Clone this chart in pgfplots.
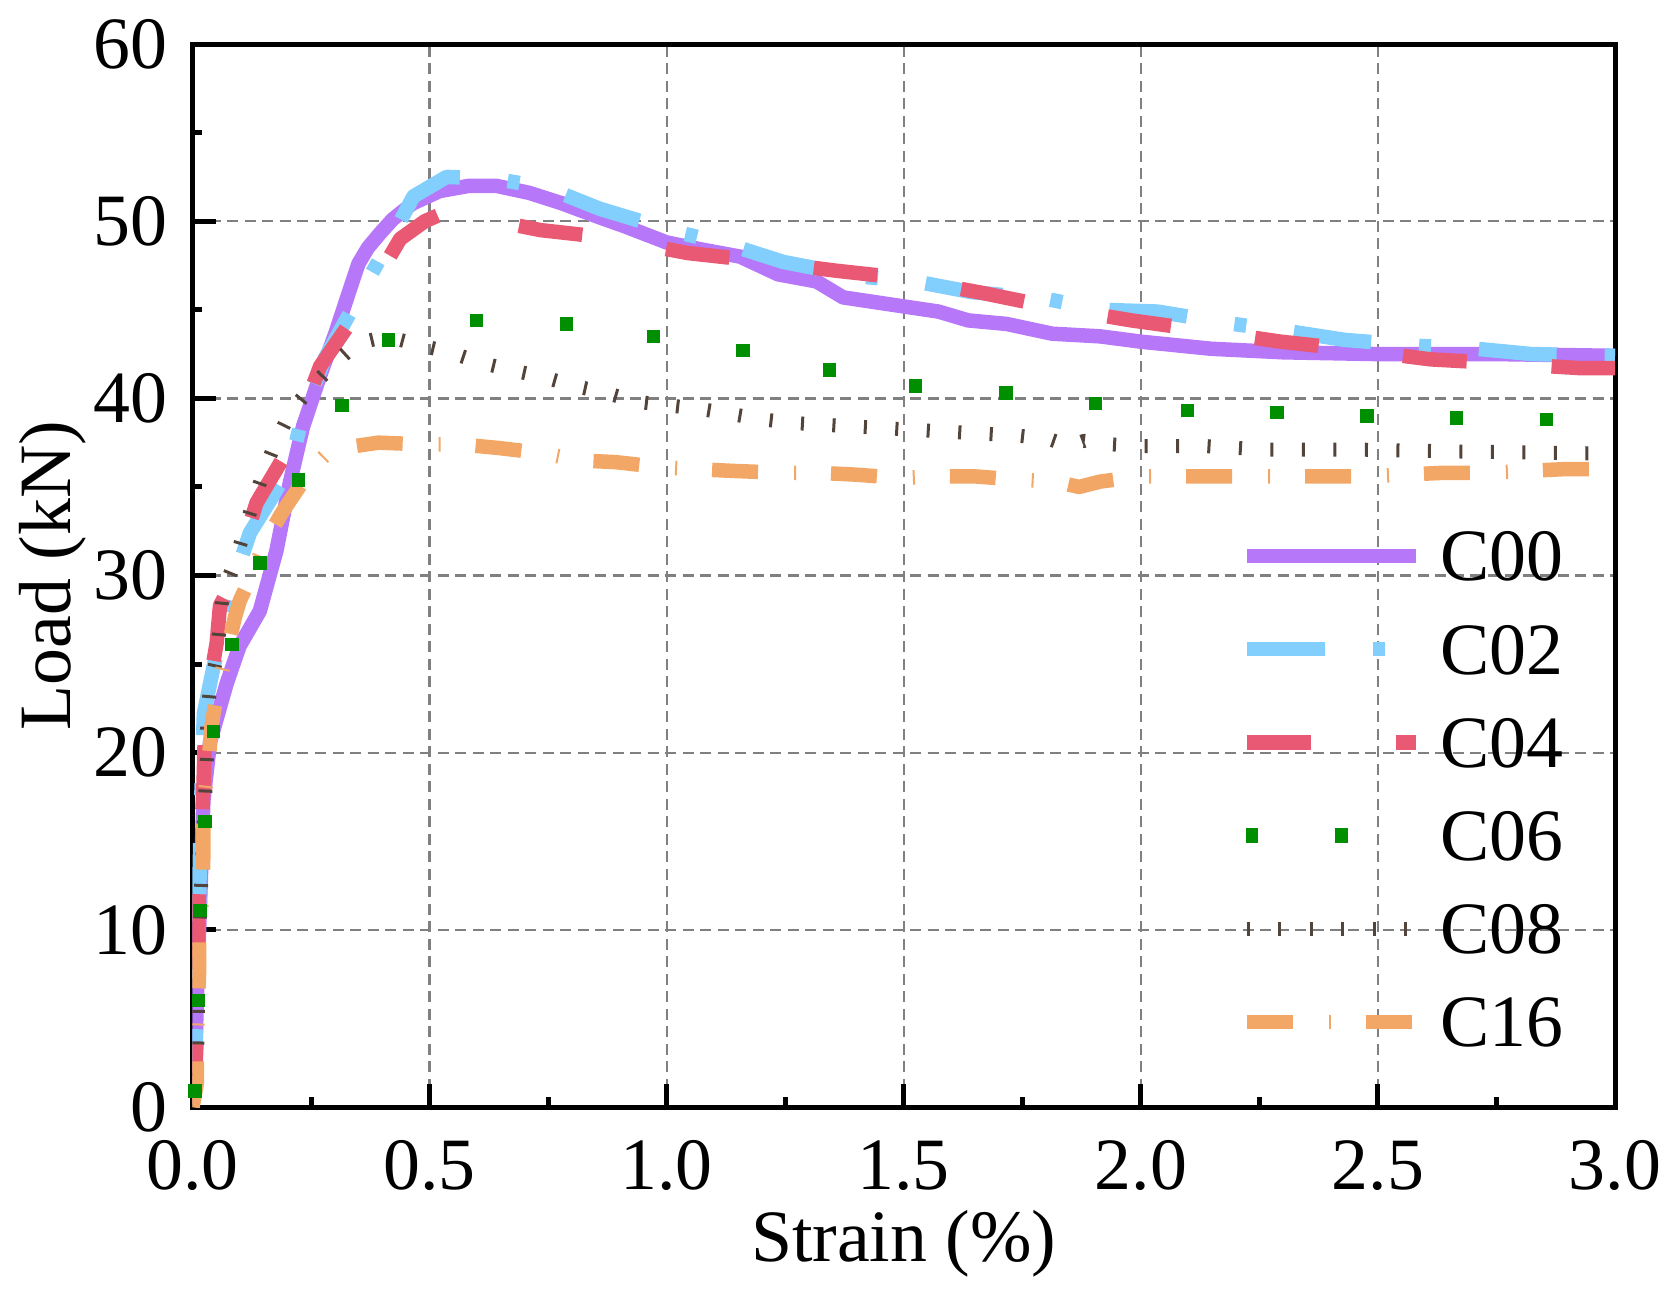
\documentclass[border=0pt]{standalone}
\usepackage{fontspec}
\setmainfont{Liberation Serif}
\usepackage{pgfplots}
\pgfplotsset{compat=1.18}
\definecolor{c00}{RGB}{183,119,249}
\definecolor{c02}{RGB}{130,206,252}
\definecolor{c04}{RGB}{234,89,115}
\definecolor{c06}{RGB}{0,143,0}
\definecolor{c08}{RGB}{82,68,58}
\definecolor{c16}{RGB}{242,167,102}
\definecolor{gridgray}{RGB}{128,128,128}
\newcommand{\fs}{\fontsize{21}{25}\selectfont}
\begin{document}
\begin{tikzpicture}
\useasboundingbox (-1.925cm,-1.82cm) rectangle (14.875cm,11.07cm);
\begin{axis}[
  at={(0,0)}, anchor=south west,
  scale only axis, width=14.225cm, height=10.63cm,
  xmin=0, xmax=3, ymin=0, ymax=60,
  xtick={0,0.5,1,1.5,2,2.5,3}, ytick={0,10,20,30,40,50,60},
  minor x tick num=1, minor y tick num=1,
  tick pos=left, tick align=inside,
  major tick length=0.23cm, minor tick length=0.1cm,
  tick style={line width=0.05cm, black},
  axis line style={line width=0.05cm, black},
  grid=major,
  major grid style={line width=0.023cm, gridgray, dash pattern=on 0.11cm off 0.065cm},
  /pgf/number format/assume math mode=true,
  tick label style={font=\fs},
  x tick label style={anchor=base, inner sep=0pt, yshift=-0.82cm, /pgf/number format/fixed, /pgf/number format/fixed zerofill, /pgf/number format/precision=1},
  y tick label style={anchor=east, inner sep=0pt, xshift=-0.245cm},
  xlabel={Strain (\%)}, ylabel={Load (kN)},
  every axis x label/.style={at={(rel axis cs:0.5,0)}, anchor=base, yshift=-1.545cm, font=\fs},
  every axis y label/.style={at={(rel axis cs:0,0.5)}, xshift=-1.218cm, anchor=base, rotate=90, font=\fs},
  legend style={draw=none, fill=none, at={(0.964,0.542)}, anchor=north east, inner sep=0pt, outer sep=0pt,
    row sep=0.432cm, column sep=0.18cm, font=\fs, nodes={inner sep=0pt, text height=0.5cm, text depth=0pt}},
  legend cell align=left,
  legend image code/.code={\draw[#1] (0cm,0cm) -- (1.69cm,0cm);},
]
\addplot[c00, line width=0.145cm, line join=round] coordinates {
(0,0) (0.006,3) (0.010,6.9) (0.016,11.6) (0.023,17.3) (0.037,20.6) (0.072,23.9) (0.099,26) (0.142,28) (0.177,31.4) (0.205,35.2) (0.233,38.4) (0.268,41.2) (0.303,43.8) (0.33,46.0) (0.35,47.6) (0.37,48.5) (0.395,49.3) (0.422,50.1) (0.464,51) (0.521,51.7) (0.584,52) (0.64,52) (0.71,51.6) (0.78,51) (0.85,50.3) (0.913,49.7) (1.0,48.8) (1.074,48.4) (1.155,48) (1.235,47) (1.316,46.6) (1.372,45.7) (1.497,45.2) (1.573,44.9) (1.636,44.4) (1.717,44.2) (1.813,43.65) (1.914,43.5) (2.0,43.2) (2.148,42.8) (2.3,42.6) (2.497,42.5) (2.75,42.5) (3.0,42.4)
};
\addlegendentry{C00}
\addplot[c02, line width=0.145cm, line join=round, dash pattern=on 0.78cm off 0.48cm on 0.12cm off 0.48cm] coordinates {
(0,0) (0.005,3) (0.009,5) (0.012,9) (0.016,14.5) (0.02,19) (0.024,22.2) (0.044,24.8) (0.086,29.6) (0.121,32.4) (0.165,34.3) (0.206,36.2) (0.234,39.2) (0.28,42.3) (0.346,45.5) (0.41,48.6) (0.466,51.4) (0.536,52.5) (0.635,52.4) (0.747,51.9) (0.859,50.7) (1.02,49.4) (1.129,48.7) (1.246,47.7) (1.4,46.9) (1.525,46.6) (1.642,46.0) (1.803,45.6) (1.916,45.0) (2.035,44.9) (2.195,44.2) (2.309,43.8) (2.43,43.3) (2.594,42.95) (2.707,42.8) (2.824,42.5) (3.0,42.4)
};
\addlegendentry{C02}
\addplot[c04, line width=0.145cm, line join=round, dash pattern=on 0.64cm off 0.85cm] coordinates {
(0,0) (0.006,2) (0.009,4) (0.011,8) (0.013,12) (0.018,15) (0.023,18) (0.026,21) (0.04,24.5) (0.051,26.2) (0.058,28.3) (0.079,29.4) (0.135,34.1) (0.206,37.3) (0.269,41.8) (0.346,44.8) (0.438,49.0) (0.49,50.0) (0.55,50.7) (0.64,50.0) (0.733,49.5) (0.867,49.1) (1.045,48.2) (1.181,47.8) (1.359,47.2) (1.496,46.8) (1.666,45.95) (1.803,45.2) (1.98,44.4) (2.116,43.9) (2.295,43.2) (2.432,42.8) (2.612,42.2) (2.748,42.0) (2.93,41.7) (3.0,41.7)
};
\addlegendentry{C04}
\addplot[color=c06, only marks, mark=square*, mark size=0.062cm, mark options={draw=c06, fill=c06, line width=0pt},
  legend image code/.code={\path[draw=none,fill=none] (0cm,0cm) -- (1.69cm,0cm); \fill[c06] (0cm,-0.07cm) rectangle (0.11cm,0.07cm); \fill[c06] (0.89cm,-0.07cm) rectangle (1.01cm,0.07cm);}] coordinates {
(0.005,0.9) (0.0123,6.0) (0.016,11.1) (0.026,16.1) (0.044,21.2) (0.083,26.1) (0.142,30.7) (0.223,35.4) (0.315,39.6) (0.413,43.3) (0.599,44.4) (0.789,44.2) (0.972,43.5) (1.161,42.7) (1.343,41.6) (1.525,40.7) (1.716,40.3) (1.904,39.7) (2.099,39.3) (2.287,39.2) (2.477,39.0) (2.666,38.9) (2.855,38.8)
};
\addlegendentry{C06}
\addplot[c08, line width=0.14cm, line join=round, dash pattern=on 0.03cm off 0.285cm] coordinates {
(0,0) (0.0075,1) (0.011,4.5) (0.012,8) (0.019,13) (0.028,18.4) (0.031,20.1) (0.031,21.9) (0.037,23.7) (0.052,25.5) (0.058,27.3) (0.064,29.1) (0.09,30.8) (0.109,32.5) (0.13,34.3) (0.151,35.9) (0.175,37.5) (0.206,39.2) (0.246,40.5) (0.293,41.8) (0.346,43.1) (0.41,43.5) (0.48,43.0) (0.543,42.6) (0.61,42.0) (0.672,41.6) (0.74,41.2) (0.806,40.7) (0.873,40.3) (0.939,39.8) (1.005,39.6) (1.072,39.4) (1.139,39.1) (1.206,38.8) (1.273,38.6) (1.339,38.5) (1.406,38.4) (1.474,38.3) (1.539,38.2) (1.607,38.1) (1.674,38.0) (1.74,37.9) (1.807,37.7) (1.85,37.3) (1.88,37.6) (1.94,37.4) (2.007,37.3) (2.14,37.3) (2.27,37.1) (2.474,37.1) (2.675,37.0) (2.943,36.9) (3.0,36.9)
};
\addlegendentry{C08}
\addplot[c16, line width=0.145cm, line join=round, dash pattern=on 0.46cm off 0.36cm on 0.02cm off 0.35cm] coordinates {
(0,0) (0.009,1.3) (0.009,3.6) (0.012,6) (0.014,7.7) (0.014,10.1) (0.021,12) (0.023,14.3) (0.023,16.9) (0.033,19.1) (0.040,21.5) (0.054,23.7) (0.075,26) (0.09,27.7) (0.1,28.6) (0.125,30) (0.153,31.9) (0.19,33.6) (0.25,36.0) (0.28,36.8) (0.315,37.2) (0.392,37.5) (0.49,37.4) (0.566,37.4) (0.645,37.2) (0.74,36.9) (0.814,36.5) (0.893,36.4) (0.992,36.1) (1.065,36.0) (1.144,35.9) (1.243,35.8) (1.317,35.8) (1.395,35.7) (1.496,35.5) (1.569,35.6) (1.648,35.6) (1.747,35.4) (1.82,35.3) (1.87,35.0) (1.914,35.3) (1.998,35.6) (2.14,35.6) (2.24,35.6) (2.39,35.6) (2.48,35.6) (2.64,35.8) (2.73,35.8) (2.89,36.0) (3.0,36.0)
};
\addlegendentry{C16}
\end{axis}
\end{tikzpicture}
\end{document}
